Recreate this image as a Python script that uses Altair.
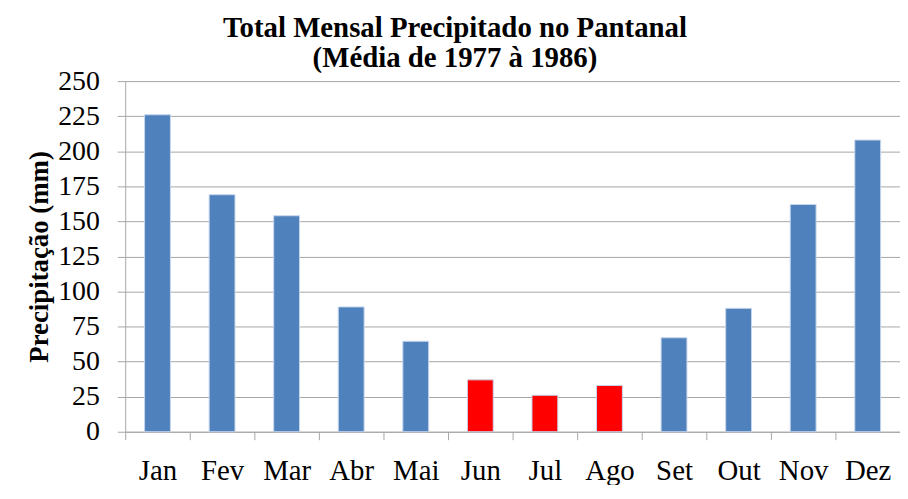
import altair as alt
import pandas as pd

meses = ["Jan", "Fev", "Mar", "Abr", "Mai", "Jun", "Jul", "Ago", "Set", "Out", "Nov", "Dez"]
precip = [226, 169, 154, 89, 64.5, 37, 26, 33, 67, 88, 162, 208]
periodo = ["chuvoso"] * 5 + ["seco"] * 3 + ["chuvoso"] * 4
y_ticks = [0, 25, 50, 75, 100, 125, 150, 175, 200, 225, 250]

df = pd.DataFrame({"mes": meses, "precip": precip, "periodo": periodo})

FONT = "Liberation Serif"
GRID = "#a6a6a6"

chart = alt.Chart(df).mark_bar(
    stroke="#c6d6ec", strokeWidth=1, width=alt.RelativeBandSize(0.4)
).encode(
    x=alt.X(
        "mes:N", sort=meses, title=None,
        scale=alt.Scale(paddingInner=0, paddingOuter=0),
        axis=alt.Axis(
            tickBand="extent", labelAngle=0, labelFont=FONT, labelFontSize=29,
            labelColor="black", labelPadding=17, tickSize=8, tickColor=GRID,
            domainColor=GRID, grid=False,
        ),
    ),
    y=alt.Y(
        "precip:Q", title="Precipitação (mm)",
        scale=alt.Scale(domain=[0, 250], nice=False),
        axis=alt.Axis(
            values=y_ticks, labelFont=FONT, labelFontSize=28, labelColor="black",
            labelPadding=18, tickSize=8, tickColor=GRID, domainColor=GRID,
            gridColor=GRID, gridOpacity=1, titleFont=FONT, titleFontSize=27,
            titleFontWeight="bold", titleColor="black", titlePadding=4,
        ),
    ),
    color=alt.Color(
        "periodo:N",
        scale=alt.Scale(domain=["chuvoso", "seco"], range=["#4f81bd", "#ff0000"]),
        legend=None,
    ),
).properties(
    width=780,
    height=353,
    autosize="none",
    padding={"left": 118, "top": 72, "right": 0, "bottom": 52},
    background="white",
    title=alt.TitleParams(
        ["Total Mensal Precipitado no Pantanal", "(Média de 1977 à 1986)"],
        font=FONT, fontSize=29, fontWeight="bold", color="black",
        anchor="middle", dx=-58, dy=12, offset=6, lineHeight=30,
    ),
).configure_view(stroke=None).configure_title(font=FONT)

chart.save("out.html", embed_options={"renderer": "svg", "actions": False})
